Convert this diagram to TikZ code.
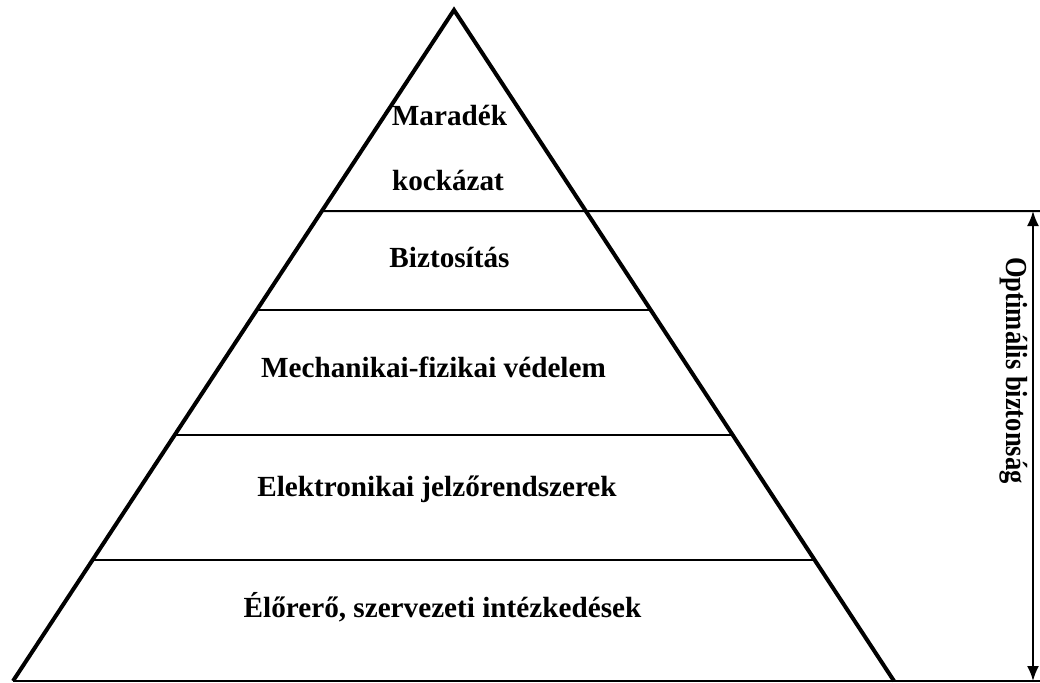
\documentclass[tikz,border=0pt]{standalone}
\usepackage{fontspec}
\setmainfont{Liberation Serif}
\usetikzlibrary{calc,arrows.meta}

\begin{document}
\begin{tikzpicture}[x=1pt, y=-1pt, line width=2pt, lvl/.style = {font=\fontsize{29.2}{35}\selectfont\bfseries, anchor=base, inner sep=0pt}]
        \useasboundingbox (0,0) rectangle (1040,682);
        \coordinate (top) at (454,10);
        \coordinate (bl) at (13,681);
        \coordinate (br) at (894,681);
        \coordinate (r1) at (1040,211);
        \coordinate (r5) at (1040,681);
        \coordinate (a1) at (1033,211);
        \coordinate (a5) at (1033,681);
        \coordinate (l1) at ($(top)!0.2996!(bl)$);
        \coordinate (k1) at ($(top)!0.2996!(br)$);
        \coordinate (l2) at ($(top)!0.4471!(bl)$);
        \coordinate (k2) at ($(top)!0.4471!(br)$);
        \coordinate (l3) at ($(top)!0.6334!(bl)$);
        \coordinate (k3) at ($(top)!0.6334!(br)$);
        \coordinate (l4) at ($(top)!0.8197!(bl)$);
        \coordinate (k4) at ($(top)!0.8197!(br)$);
        \draw[line width=4pt, line join=miter] (bl) -- (top) -- (br);
        \draw (bl) -- (r5);
        \draw (l1) -- (r1);
        \draw (l2) -- (k2);
        \draw (l3) -- (k3);
        \draw (l4) -- (k4);
        \draw[{Latex[length=15pt, width=12pt]}-{Latex[length=15pt, width=12pt]}] (a1) -- (a5);
        \node[lvl] (1) at (449.5,125) {Maradék};
        \node[lvl] (2) at (448,190) {kockázat};
        \node[lvl] (3) at (449.5,267) {Biztosítás};
        \node[lvl] (4) at (433.5,377) {Mechanikai-fizikai védelem};
        \node[lvl] (5) at (437,496) {Elektronikai jelzőrendszerek};
        \node[lvl] (6) at (442.5,617) {Élőrerő, szervezeti intézkedések};
        \node[lvl, font=\fontsize{30.5}{36}\selectfont\bfseries, rotate=-90, xscale=0.87] (7) at (1006.5,370.5) {Optimális biztonság};
    \end{tikzpicture}
\end{document}
